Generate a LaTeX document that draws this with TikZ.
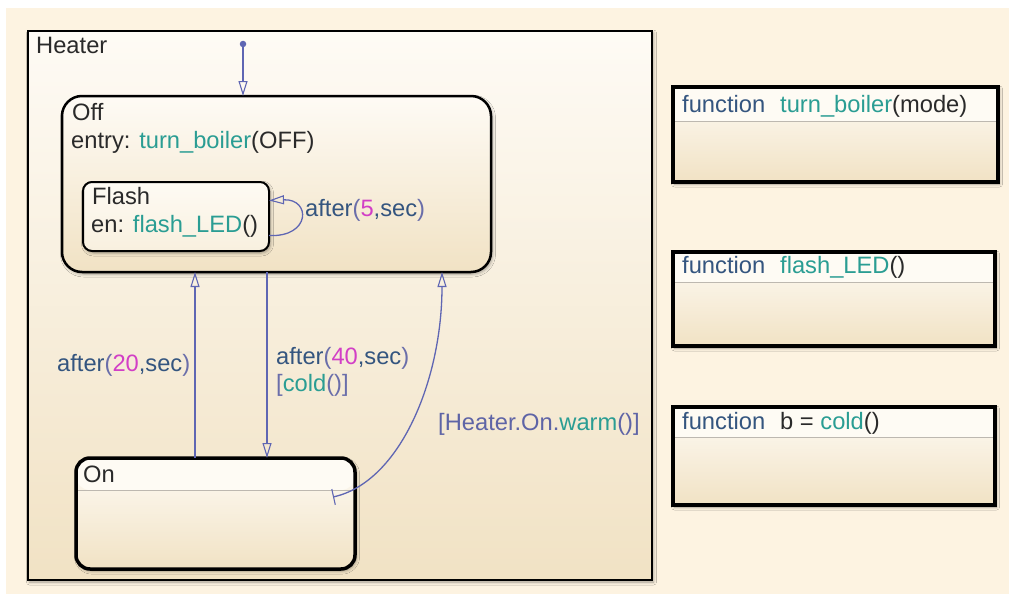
\documentclass[tikz,border=0pt]{standalone}
\usepackage{fontspec}
\setmainfont{Liberation Sans}
\usetikzlibrary{arrows.meta,shadows.blur}
\definecolor{bgc}{HTML}{FDF3E1}
\definecolor{txtc}{HTML}{2A2A2A}
\definecolor{kwc}{HTML}{34557F}
\definecolor{pac}{HTML}{6A6EAA}
\definecolor{ptc}{HTML}{5E64A6}
\definecolor{nmc}{HTML}{D23FC6}
\definecolor{fnc}{HTML}{2A9D93}
\definecolor{trc}{HTML}{5F66B3}
\definecolor{topc}{HTML}{FEFBF5}
\definecolor{botc}{HTML}{F1E2C4}
\definecolor{headc}{HTML}{FEFBF4}
\definecolor{hlinec}{HTML}{BDB8B0}
\newcommand{\cKw}[1]{\textcolor{kwc}{#1}}
\newcommand{\cFn}[1]{\textcolor{fnc}{#1}}
\newcommand{\cNm}[1]{\textcolor{nmc}{#1}}
\newcommand{\cPa}[1]{\textcolor{pac}{#1}}
\tikzset{
  lbl/.style={font=\fontsize{23.7}{28}\selectfont, inner sep=0pt, anchor=base west, text=txtc},
  trans/.style={draw=trc, line width=1.3pt, -{Triangle[open, length=15pt, width=9pt, line width=1.1pt]}},
  softshadow/.style={blur shadow={shadow xshift=1.5pt, shadow yshift=-2pt, shadow blur radius=3pt, shadow opacity=35}},
  box/.style={draw=black, anchor=north west, outer sep=0pt, inner sep=0pt, top color=topc, bottom color=botc, softshadow},
  statebox/.style={box, line width=2.5pt, rounded corners=#1},
  headbox/.style={path picture={
      \fill[headc] (path picture bounding box.north west) rectangle ([yshift=-#1]path picture bounding box.north east);
      \draw[hlinec, line width=1pt] ([yshift=-#1]path picture bounding box.north west) -- ([yshift=-#1]path picture bounding box.north east);}},
  funcbox/.style={box, line width=3.5pt, headbox=#1},
}
\begin{document}
\begin{tikzpicture}[x=1pt,y=-1pt]
\useasboundingbox (0,0) rectangle (1009,594);
\fill[white] (0,0) rectangle (1009,594);
\fill[bgc] (6,8) rectangle (1009,594);

% states
\node[box, line width=2pt, minimum width=624pt, minimum height=549pt] (heater) at (28,31) {};
\node[statebox=20pt, minimum width=429pt, minimum height=176pt] (off) at (62,96) {};
\node[statebox=9pt, line width=2pt, top color=headc, bottom color=botc!45!headc, minimum width=186pt, minimum height=69pt] (flash) at (83,182) {};
\node[statebox=14pt, line width=3.5pt, headbox=32pt, minimum width=279pt, minimum height=111pt] (on) at (76,458) {};

% functions
\node[funcbox=34pt, minimum width=325pt, minimum height=95pt] (f1) at (673,87) {};
\node[funcbox=30pt, minimum width=322pt, minimum height=94pt] (f2) at (673,252) {};
\node[funcbox=30pt, minimum width=322pt, minimum height=98pt] (f3) at (673,407) {};

% labels
\node[lbl] (lHeater) at (36,54) {Heater};
\node[lbl] (lOff) at (72,120) {Off};
\node[lbl] (lEntry) at (71,148) {entry: \cFn{turn\_boiler}(OFF)};
\node[lbl] (lFlash) at (92,204) {Flash};
\node[lbl] (lEn) at (91,232) {en: \cFn{flash\_LED}()};
\node[lbl] (lOn) at (83,482) {On};
\node[lbl, text=kwc] (l5) at (305,216) {after\cPa{(}\cNm{5},sec\cPa{)}};
\node[lbl, text=kwc] (l20) at (57,371) {after\cPa{(}\cNm{20},sec\cPa{)}};
\node[lbl, text=kwc] (l40) at (276,364) {after\cPa{(}\cNm{40},sec\cPa{)}};
\node[lbl, text=pac] (lcold) at (276,391) {[\cFn{cold}()]};
\node[lbl, text=ptc] (lwarm) at (438,430) {[Heater.On.\cFn{warm}()]};
\node[lbl] (lf1) at (682,112) {\cKw{function}\hspace{15pt}\cFn{turn\_boiler}(mode)};
\node[lbl] (lf2) at (682,273) {\cKw{function}\hspace{15pt}\cFn{flash\_LED}()};
\node[lbl] (lf3) at (682,429) {\cKw{function}\hspace{15pt}b = \cFn{cold}()};

% transitions
\node[circle, fill=trc, inner sep=0pt, minimum size=6.5pt] (init) at (243,44) {};
\draw[trans] (init) -- (init |- off.north);
\coordinate (x195) at (195,0);
\coordinate (x267) at (267,0);
\coordinate (x442) at (442,0);
\draw[trans] (x195 |- on.north) -- (x195 |- off.south);
\draw[trans] (x267 |- off.south) -- (x267 |- on.north);
\coordinate (warmstart) at (333,497);
\draw[draw=trc, line width=1.3pt, {Bar[width=16pt, line width=1.1pt]}-{Triangle[open, length=15pt, width=9pt, line width=1.1pt]}]
  (warmstart) .. controls (400,482) and (442,380) .. (x442 |- off.south);
\draw[trans] ([yshift=-19pt]flash.east) .. controls +(42,2) and +(42,-2) .. ([yshift=16pt]flash.east);
\end{tikzpicture}
\end{document}
